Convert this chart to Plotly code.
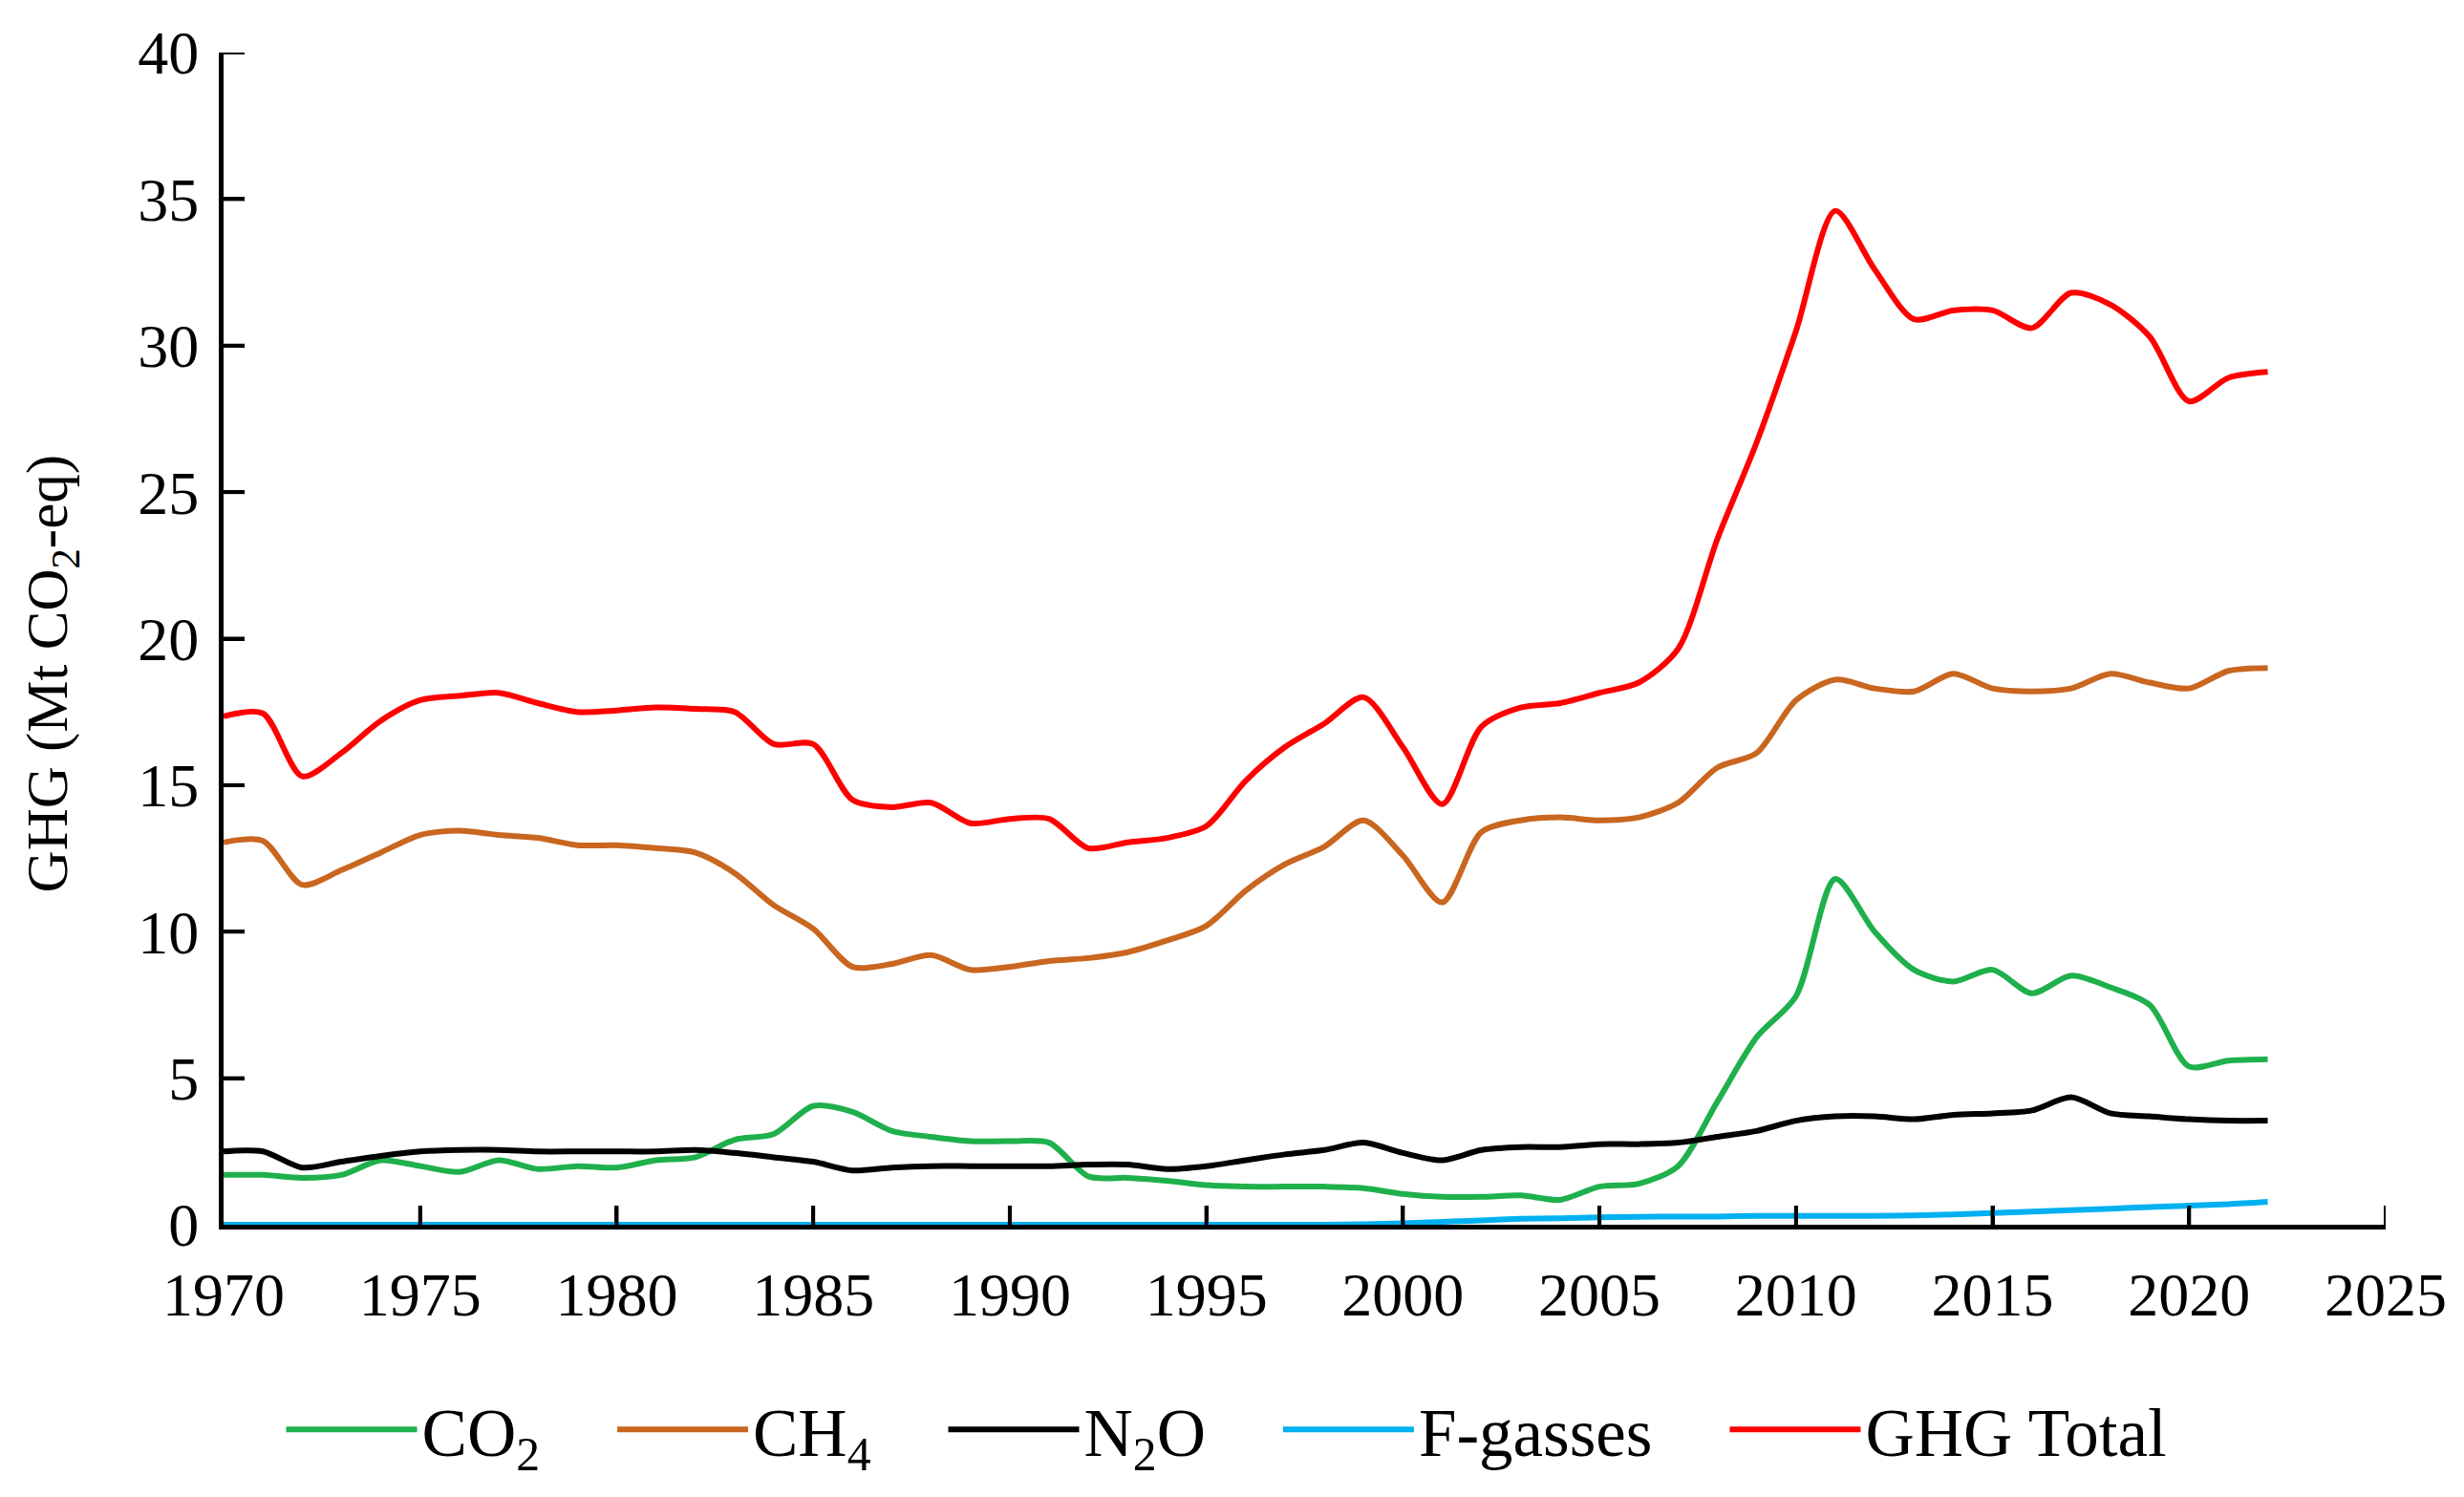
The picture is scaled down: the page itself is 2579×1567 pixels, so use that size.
import plotly.graph_objects as go

years = list(range(1970, 2023))

co2 = [1.7, 1.7, 1.6, 1.7, 2.2, 2.0, 1.8, 2.2, 1.9, 2.0,
       1.95, 2.2, 2.3, 2.9, 3.1, 4.05, 3.85, 3.2, 3.0, 2.85,
       2.85, 2.8, 1.65, 1.6, 1.5, 1.35, 1.3, 1.3, 1.3, 1.25,
       1.05, 0.95, 0.95, 1.0, 0.85, 1.3, 1.4, 2.0, 4.2, 6.4,
       7.8, 11.8, 10.0, 8.7, 8.3, 8.7, 7.9, 8.5, 8.1, 7.5,
       5.4, 5.6, 5.65]

ch4 = [13.05, 13.1, 11.6, 12.1, 12.7, 13.3, 13.45, 13.3, 13.2, 12.95,
       12.95, 12.85, 12.7, 12.0, 10.9, 10.1, 8.8, 8.9, 9.2, 8.7,
       8.8, 9.0, 9.1, 9.3, 9.7, 10.2, 11.4, 12.3, 12.9, 13.8,
       12.6, 11.0, 13.4, 13.8, 13.9, 13.8, 13.9, 14.4, 15.6, 16.1,
       17.9, 18.6, 18.3, 18.2, 18.8, 18.3, 18.2, 18.3, 18.8, 18.5,
       18.3, 18.9, 19.0]

n2o = [2.5, 2.5, 1.95, 2.15, 2.35, 2.5, 2.55, 2.55, 2.5, 2.5,
       2.5, 2.5, 2.55, 2.45, 2.3, 2.15, 1.85, 1.95, 2.0, 2.0,
       2.0, 2.0, 2.05, 2.05, 1.9, 2.0, 2.2, 2.4, 2.55, 2.8,
       2.45, 2.2, 2.55, 2.65, 2.65, 2.75, 2.75, 2.8, 3.0, 3.2,
       3.55, 3.7, 3.7, 3.6, 3.75, 3.8, 3.9, 4.35, 3.8, 3.7,
       3.6, 3.55, 3.55]

fgas = [0.0] * 28 + [0.0, 0.02,
        0.05, 0.1, 0.15, 0.2, 0.22, 0.25, 0.27, 0.28, 0.28, 0.3,
        0.3, 0.3, 0.3, 0.32, 0.35, 0.4, 0.45, 0.5, 0.55, 0.6,
        0.65, 0.7, 0.78]

total = [17.35, 17.45, 15.3, 16.1, 17.2, 17.9, 18.05, 18.15, 17.8, 17.5,
         17.55, 17.65, 17.6, 17.5, 16.4, 16.4, 14.5, 14.25, 14.4, 13.7,
         13.85, 13.85, 12.85, 13.05, 13.2, 13.6, 15.15, 16.3, 17.1, 18.0,
         16.3, 14.35, 17.0, 17.65, 17.8, 18.15, 18.5, 19.65, 23.4, 26.7,
         30.5, 34.6, 32.6, 30.9, 31.2, 31.2, 30.6, 31.8, 31.4, 30.3,
         28.1, 28.9, 29.1]

series_names = ["CO<sub>2</sub>", "CH<sub>4</sub>", "N<sub>2</sub>O", "F-gasses", "GHG Total"]
series_values = [co2, ch4, n2o, fgas, total]
series_colors = ["#1FB04C", "#C9661F", "#000000", "#00B0F0", "#FF0000"]

x_ticks = list(range(1970, 2026, 5))
y_ticks = list(range(0, 41, 5))
x_range = [1970, 2025]
y_range = [0, 40]

FONT = "Liberation Serif, Times New Roman, serif"
GAP = "&nbsp;" * 4

fig = go.Figure()
for i, (name, vals, color) in enumerate(zip(series_names, series_values, series_colors)):
    label = name + (GAP if i < len(series_names) - 1 else "")
    fig.add_trace(go.Scatter(
        x=years, y=vals, name=label, mode="lines",
        line=dict(color=color, width=6, shape="spline", smoothing=0.8),
    ))

# inward tick marks, anchored on the axis tick values
tick_shapes = []
for t in x_ticks[1:]:
    tick_shapes.append(dict(
        type="line", xref="x", yref="y", x0=t, x1=t,
        ysizemode="pixel", yanchor=y_range[0], y0=0, y1=20,
        line=dict(color="black", width=4), layer="above",
    ))
for t in y_ticks[1:]:
    tick_shapes.append(dict(
        type="line", xref="x", yref="y", y0=t, y1=t,
        xsizemode="pixel", xanchor=x_range[0], x0=0, x1=22,
        line=dict(color="black", width=4), layer="above",
    ))

fig.update_layout(
    width=2571, height=1559,
    margin=dict(l=226, r=82, t=45, b=285),
    paper_bgcolor="white", plot_bgcolor="rgba(0,0,0,0)",
    font=dict(family=FONT, color="black", size=64),
    showlegend=True,
    legend=dict(
        orientation="h", x=0.464, xanchor="center",
        y=-0.175, yanchor="middle",
        font=dict(family=FONT, size=71, color="black"),
        itemwidth=137, bgcolor="rgba(0,0,0,0)",
    ),
    shapes=tick_shapes,
    annotations=[dict(
        text="GHG (Mt CO<sub>2</sub>-eq)", textangle=-90,
        xref="paper", yref="paper", x=-0.0795, y=0.47,
        xanchor="center", yanchor="middle", showarrow=False,
        font=dict(family=FONT, size=61, color="black"),
    )],
    xaxis=dict(
        range=x_range, tickmode="array", tickvals=x_ticks,
        ticktext=[str(v) for v in x_ticks],
        showline=True, linecolor="black", linewidth=5,
        ticks="inside", ticklen=20, tickwidth=4, tickcolor="black",
        showgrid=False, zeroline=False, layer="below traces",
        tickfont=dict(family=FONT, size=64, color="black"),
        ticklabelstandoff=13,
    ),
    yaxis=dict(
        range=y_range, tickmode="array", tickvals=y_ticks,
        ticktext=[str(v) for v in y_ticks],
        showline=True, linecolor="black", linewidth=5,
        ticks="inside", ticklen=22, tickwidth=4, tickcolor="black",
        showgrid=False, zeroline=False, layer="below traces",
        tickfont=dict(family=FONT, size=64, color="black"),
        ticklabelstandoff=8,
    ),
)

fig.write_html("out.html")
